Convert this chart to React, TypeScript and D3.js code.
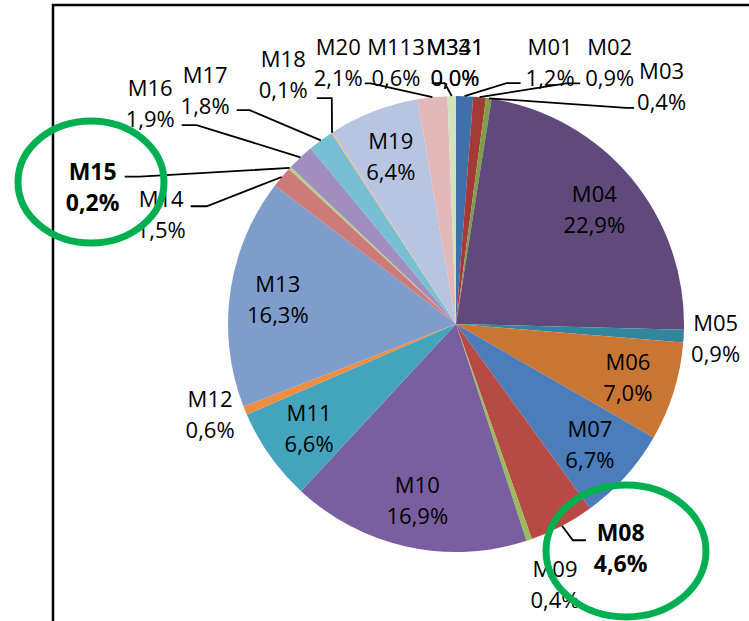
import { useEffect, useRef } from "react"
import * as d3 from "d3"

const names = ["M01", "M02", "M03", "M04", "M05", "M06", "M07", "M08", "M09", "M10", "M11", "M12", "M13", "M14", "M15", "M16", "M17", "M18", "M19", "M20", "M113", "M331", "M341"]
const values = [1.2, 0.9, 0.4, 22.9, 0.9, 7.0, 6.7, 4.6, 0.4, 16.9, 6.6, 0.6, 16.3, 1.5, 0.2, 1.9, 1.8, 0.1, 6.4, 2.1, 0.6, 0.0, 0.0]
const colors = ["#4070AA", "#A33A37", "#7F9E47", "#5F4A7B", "#31859C", "#C97634", "#4A7DBA", "#B84A46", "#9ABB59", "#7A5FA0", "#45A4BD", "#F08C3F", "#7F9DCB", "#CD7B79", "#B5D08B", "#A08EBF", "#77BFD2", "#F9B27C", "#B8C5E0", "#E2B9B8", "#D3E2BC", "#C6D9A8", "#D8C8E0"]
const insideLabels = ["M04", "M06", "M07", "M10", "M11", "M13", "M19"]
const boldLabels = ["M08", "M15"]
const circled = ["M15", "M08"]

const W = 749
const H = 621
const cx = 456
const cy = 324
const R = 228

// label block shift from the default outside spot
const nudge: Record<string, [number, number]> = {
  M01: [84, 6], M02: [126, 5], M03: [167, 27], M05: [-8, 0], M08: [40, -13],
  M09: [13, 6], M12: [2, -12], M14: [-90, 63], M15: [-168, 46], M16: [-123, -25],
  M17: [-92, -18], M18: [-27, -25], M20: [-90, 5], M113: [-55, 6], M331: [-1, 6], M341: [-1, 6],
}

// leader line settings: side of the label the line ends on, y offset, gap, elbow length
const leaders: Record<string, { side: "l" | "r"; dy: number; gap: number; elbow: number }> = {
  M01: { side: "r", dy: 21, gap: 5, elbow: 14 },
  M02: { side: "r", dy: 21, gap: 5, elbow: 14 },
  M03: { side: "r", dy: 22, gap: 3, elbow: 8 },
  M08: { side: "r", dy: -8, gap: 8, elbow: 13 },
  M14: { side: "l", dy: -8, gap: 5, elbow: 16 },
  M15: { side: "l", dy: -10, gap: 5, elbow: 15 },
  M16: { side: "l", dy: 22, gap: 7, elbow: 15 },
  M17: { side: "l", dy: 20, gap: 7, elbow: 13 },
  M18: { side: "l", dy: 24, gap: 9, elbow: 15 },
  M20: { side: "l", dy: 21, gap: 2, elbow: 6 },
  M113: { side: "l", dy: 21, gap: 7, elbow: 13 },
}

const fmt = (v: number) => v.toFixed(1).replace(".", ",") + "%"

export default function App() {
  const svgRef = useRef<SVGSVGElement>(null)

  useEffect(() => {
    if (!svgRef.current) return
    const svg = d3.select(svgRef.current)
    svg.selectAll("*").remove()

    const data = names.map((n, i) => ({ name: n, value: values[i], color: colors[i] }))
    const pie = d3.pie<{ name: string; value: number; color: string }>()
      .sort(null)
      .value(d => d.value)
    const arcs = pie(data)

    const arc = d3.arc<any>().innerRadius(0).outerRadius(R)
    const labelArc = d3.arc<any>().innerRadius(180).outerRadius(180)
    const edgeArc = d3.arc<any>().innerRadius(R).outerRadius(R)
    const outArc = d3.arc<any>().innerRadius(R + 40).outerRadius(R + 40)

    // frame
    svg.append("path")
      .attr("d", `M53,${H} L53,5 L${W},5`)
      .attr("fill", "none")
      .attr("stroke", "#000")
      .attr("stroke-width", 2.5)

    const g = svg.append("g").attr("transform", `translate(${cx},${cy})`)

    g.selectAll("path.slice")
      .data(arcs)
      .join("path")
      .attr("class", "slice")
      .attr("d", arc)
      .attr("fill", d => d.data.color)

    const font = "'Open Sans', 'Noto Sans', sans-serif"

    arcs.forEach(a => {
      const name = a.data.name
      const inside = insideLabels.includes(name)
      const bold = boldLabels.includes(name)
      let px: number, py: number
      if (inside) {
        ;[px, py] = labelArc.centroid(a)
      } else {
        const [bx, by] = outArc.centroid(a)
        const [dx, dy] = nudge[name] || [0, 0]
        px = bx + dx
        py = by + dy
      }
      const tg = g.append("g")
        .attr("font-family", font)
        .attr("font-size", bold ? 23 : 22)
        .attr("font-weight", bold ? 700 : 400)
        .attr("fill", "#000")
        .attr("text-anchor", "middle")
      tg.append("text").attr("x", px).attr("y", py - 7).text(name)
      tg.append("text").attr("x", px).attr("y", py + 24).text(fmt(a.data.value))

      const ld = leaders[name]
      if (ld) {
        const box = (tg.node() as SVGGElement).getBBox()
        const [sx, sy] = edgeArc.centroid(a)
        const ly = py + ld.dy
        const ex = ld.side === "r" ? box.x - ld.gap : box.x + box.width + ld.gap
        const kx = ld.side === "r" ? ex - ld.elbow : ex + ld.elbow
        g.append("path")
          .attr("d", d3.line()([[sx, sy], [kx, ly], [ex, ly]]))
          .attr("fill", "none")
          .attr("stroke", "#000")
          .attr("stroke-width", 1.8)
      }
    })

    // green highlight ellipses
    const ellipses: Record<string, [number, number, number, number]> = {
      M15: [91, 182, 73, 61],
      M08: [626, 551, 80, 66],
    }
    circled.forEach(n => {
      const [ex, ey, rx, ry] = ellipses[n]
      svg.append("ellipse")
        .attr("cx", ex).attr("cy", ey).attr("rx", rx).attr("ry", ry)
        .attr("fill", "none")
        .attr("stroke", "#00B050")
        .attr("stroke-width", 7)
    })
  }, [])

  return (
    <svg
      ref={svgRef}
      width={W}
      height={H}
      style={{ position: "absolute", left: 0, top: 0, background: "#fff" }}
    />
  )
}
